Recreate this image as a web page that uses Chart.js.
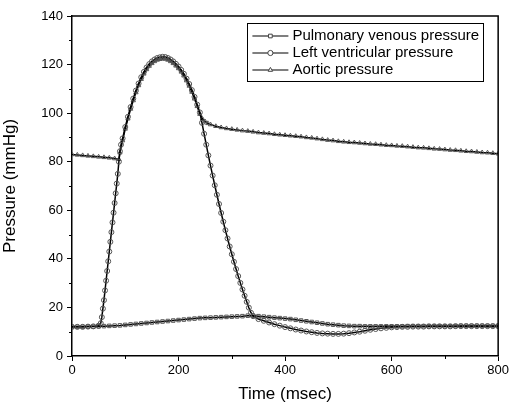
<!DOCTYPE html>
<html>
<head>
<meta charset="utf-8">
<script src="https://cdn.jsdelivr.net/npm/chart.js@4.4.1/dist/chart.umd.min.js"></script>
<style>
  html, body { margin: 0; padding: 0; background: #fff; }
  #wrap { width: 511px; height: 405px; }
</style>
</head>
<body>
<div id="wrap"><canvas id="c" width="511" height="405"></canvas></div>
<script>
// ---- data ----
const seriesNames = ["Pulmonary venous pressure", "Left ventricular pressure", "Aortic pressure"];

const pvTime = [0,10,20,30,40,50,60,70,80,90,100,110,120,130,140,150,160,170,180,190,200,210,220,230,240,250,260,270,280,290,300,310,320,330,340,350,360,370,380,390,400,410,420,430,440,450,460,470,480,490,500,510,520,530,540,550,560,570,580,590,600,610,620,630,640,650,660,670,680,690,700,710,720,730,740,750,760,770,780,790,800];
const pvPressure = [12.0,12.0,12.0,12.1,12.1,12.2,12.3,12.4,12.5,12.6,12.8,13.0,13.2,13.4,13.6,13.8,14.0,14.2,14.4,14.6,14.8,15.0,15.2,15.4,15.6,15.7,15.8,15.9,16.0,16.1,16.2,16.3,16.4,16.6,16.6,16.4,16.2,16.0,15.8,15.6,15.4,15.2,14.9,14.6,14.3,14.0,13.7,13.4,13.1,12.9,12.7,12.5,12.4,12.3,12.3,12.2,12.2,12.2,12.2,12.2,12.2,12.2,12.2,12.3,12.3,12.3,12.3,12.3,12.3,12.3,12.3,12.3,12.3,12.4,12.4,12.4,12.4,12.4,12.4,12.4,12.4];

const lvTime = [0,10,20,30,40,50,54,56,58,60,62,64,66,68,70,72,74,76,78,80,82,84,86,88,90,92,95,100,105,110,115,120,125,130,135,140,145,150,155,160,165,170,175,180,185,190,195,200,205,210,215,220,225,230,235,240,244,248,252,256,260,264,268,272,276,280,284,288,292,296,300,304,308,312,316,320,324,328,332,336,340,350,360,370,380,390,400,410,420,430,440,450,460,470,480,490,500,510,520,530,540,550,560,570,580,590,600,610,620,630,640,650,660,670,680,690,700,710,720,730,740,750,760,770,780,790,800];
const lvPressure = [12.0,12.0,12.0,12.1,12.2,12.5,13.5,16.0,19.5,23.0,27.0,31.0,35.0,39.0,43.0,47.0,51.0,55.0,59.0,63.0,67.0,71.0,75.0,80.0,84.3,87.0,89.6,94.3,98.5,102.5,106.0,109.3,112.2,114.8,117.0,118.8,120.2,121.3,122.1,122.7,123.0,123.2,123.1,122.7,122.1,121.3,120.3,119.2,117.8,116.2,114.2,112.0,109.5,106.7,103.5,100.3,96.0,91.5,87.0,82.6,78.4,74.3,70.3,66.4,62.6,58.9,55.3,51.8,48.4,45.1,41.9,38.8,35.8,32.9,30.1,27.4,24.8,22.3,19.9,17.8,16.4,15.2,14.5,13.8,13.1,12.5,11.9,11.4,10.9,10.5,10.1,9.8,9.5,9.3,9.2,9.1,9.1,9.2,9.4,9.7,10.0,10.4,10.8,11.1,11.4,11.6,11.8,11.9,12.0,12.0,12.1,12.1,12.1,12.2,12.2,12.2,12.2,12.2,12.3,12.3,12.3,12.3,12.3,12.3,12.3,12.3,12.3];

const aoTime = [0,10,20,30,40,50,60,70,80,88,90,95,100,105,110,115,120,125,130,135,140,145,150,155,160,165,170,175,180,185,190,195,200,205,210,215,220,225,230,235,240,245,250,255,260,270,280,290,300,310,320,330,340,350,360,370,380,390,400,410,420,430,440,450,460,470,480,490,500,510,520,530,540,550,560,570,580,590,600,610,620,630,640,650,660,670,680,690,700,710,720,730,740,750,760,770,780,790,800];
const aoPressure = [83.0,82.8,82.6,82.4,82.2,82.0,81.8,81.6,81.3,81.0,83.7,88.7,93.5,97.7,101.7,105.2,108.5,111.4,114.0,116.2,118.0,119.4,120.5,121.3,121.9,122.2,122.4,122.3,121.9,121.3,120.5,119.5,118.4,117.0,115.4,113.4,111.2,108.7,105.9,102.8,99.6,97.6,96.5,95.8,95.3,94.6,94.1,93.7,93.4,93.1,92.8,92.6,92.3,92.0,91.8,91.6,91.3,91.1,90.9,90.7,90.5,90.3,90.0,89.8,89.5,89.2,88.9,88.7,88.4,88.2,88.0,87.9,87.7,87.5,87.3,87.2,87.0,86.8,86.7,86.5,86.4,86.2,86.0,85.8,85.7,85.5,85.3,85.2,85.0,84.8,84.7,84.5,84.3,84.2,84.0,83.8,83.7,83.5,83.3];

const xTickValues = [0,200,400,600,800];
const yTickValues = [0,20,40,60,80,100,120,140];
const xAxisTitle = "Time (msec)";
const yAxisTitle = "Pressure (mmHg)";

// ---- build datasets ----
function pts(t, v) { return t.map((x, i) => ({ x: x, y: v[i] })); }
const FONT = "'Liberation Sans', Arial, sans-serif";
const markerStyles = ['rect', 'circle', 'triangle'];
const series = [pts(pvTime, pvPressure), pts(lvTime, lvPressure), pts(aoTime, aoPressure)];

const datasets = series.map((d, i) => ({
  label: seriesNames[i],
  data: d,
  borderColor: '#000',
  borderWidth: 1.5,
  pointStyle: markerStyles[i],
  pointRadius: 2.5,
  pointBorderWidth: 1,
  pointBorderColor: '#555',
  pointBackgroundColor: 'rgba(255,255,255,0)',
  tension: 0,
  fill: false
}));

const framePlugin = {
  id: 'frame',
  afterDraw(chart) {
    const ctx = chart.ctx, a = chart.chartArea;
    const xs = chart.scales.x, ys = chart.scales.y;
    ctx.save();
    ctx.strokeStyle = '#000';
    ctx.lineWidth = 1.5;
    ctx.beginPath();
    ctx.moveTo(a.left, a.top); ctx.lineTo(a.right, a.top); ctx.lineTo(a.right, a.bottom);
    ctx.stroke();
    // minor ticks
    ctx.lineWidth = 1;
    ctx.beginPath();
    for (let v = 10; v < 140; v += 20) {
      const y = Math.round(ys.getPixelForValue(v)) + 0.5;
      ctx.moveTo(a.left - 3, y); ctx.lineTo(a.left, y);
    }
    for (let v = 100; v < 800; v += 200) {
      const x = Math.round(xs.getPixelForValue(v)) + 0.5;
      ctx.moveTo(x, a.bottom); ctx.lineTo(x, a.bottom + 3);
    }
    ctx.stroke();
    // legend
    ctx.font = '15px ' + FONT;
    let tw = 0;
    chart.data.datasets.forEach(ds => { tw = Math.max(tw, ctx.measureText(ds.label).width); });
    const right = a.right - 15, top = a.top + 7;
    const sample = 36, padL = 5, gap = 4, padR = 4, rowH = 17;
    const left = right - (padL + sample + gap + tw + padR);
    const h = rowH * 3 + 7;
    ctx.lineWidth = 1;
    ctx.strokeStyle = '#000';
    ctx.strokeRect(Math.round(left) + 0.5, Math.round(top) + 0.5, Math.round(right - left), h);
    chart.data.datasets.forEach((ds, i) => {
      const y = top + 13 + i * rowH;
      const x0 = left + padL;
      ctx.strokeStyle = '#000';
      ctx.lineWidth = 1.2;
      ctx.beginPath(); ctx.moveTo(x0, y); ctx.lineTo(x0 + sample, y); ctx.stroke();
      ctx.strokeStyle = '#444';
      ctx.lineWidth = 1;
      ctx.fillStyle = '#fff';
      Chart.helpers.drawPoint(ctx, { pointStyle: ds.pointStyle, radius: 2.6, rotation: 0, borderWidth: 1 }, x0 + sample / 2, y);
      ctx.fillStyle = '#000';
      ctx.textBaseline = 'middle';
      ctx.textAlign = 'left';
      ctx.fillText(ds.label, x0 + sample + gap, y);
    });
    ctx.restore();
  }
};

new Chart(document.getElementById('c'), {
  type: 'line',
  data: { datasets },
  options: {
    responsive: false,
    animation: false,
    devicePixelRatio: 1,
    layout: { padding: { left: 0, right: 11, top: 16, bottom: 0 } },
    plugins: { legend: { display: false }, tooltip: { enabled: false } },
    scales: {
      x: {
        type: 'linear', min: 0, max: 800,
        afterBuildTicks(s) { s.ticks = xTickValues.map(v => ({ value: v })); },
        afterFit(s) { s.height = 49; },
        ticks: { color: '#000', font: { family: FONT, size: 13 }, padding: 2, maxRotation: 0 },
        grid: { drawOnChartArea: false, drawTicks: true, tickLength: 5, color: '#000', tickWidth: 1 },
        border: { display: true, color: '#000', width: 1.5 },
        title: { display: true, text: xAxisTitle, color: '#000', font: { family: FONT, size: 17 }, padding: { top: 2, bottom: 0 } }
      },
      y: {
        type: 'linear', min: 0, max: 140,
        afterBuildTicks(s) { s.ticks = yTickValues.map(v => ({ value: v })); },
        afterFit(s) { s.width = 72; },
        ticks: { color: '#000', font: { family: FONT, size: 13 }, padding: 4 },
        grid: { drawOnChartArea: false, drawTicks: true, tickLength: 5, color: '#000', tickWidth: 1 },
        border: { display: true, color: '#000', width: 1.5 },
        title: { display: true, text: yAxisTitle, color: '#000', font: { family: FONT, size: 17 }, padding: { top: 0, bottom: 6 } }
      }
    }
  },
  plugins: [framePlugin]
});
</script>
</body>
</html>
